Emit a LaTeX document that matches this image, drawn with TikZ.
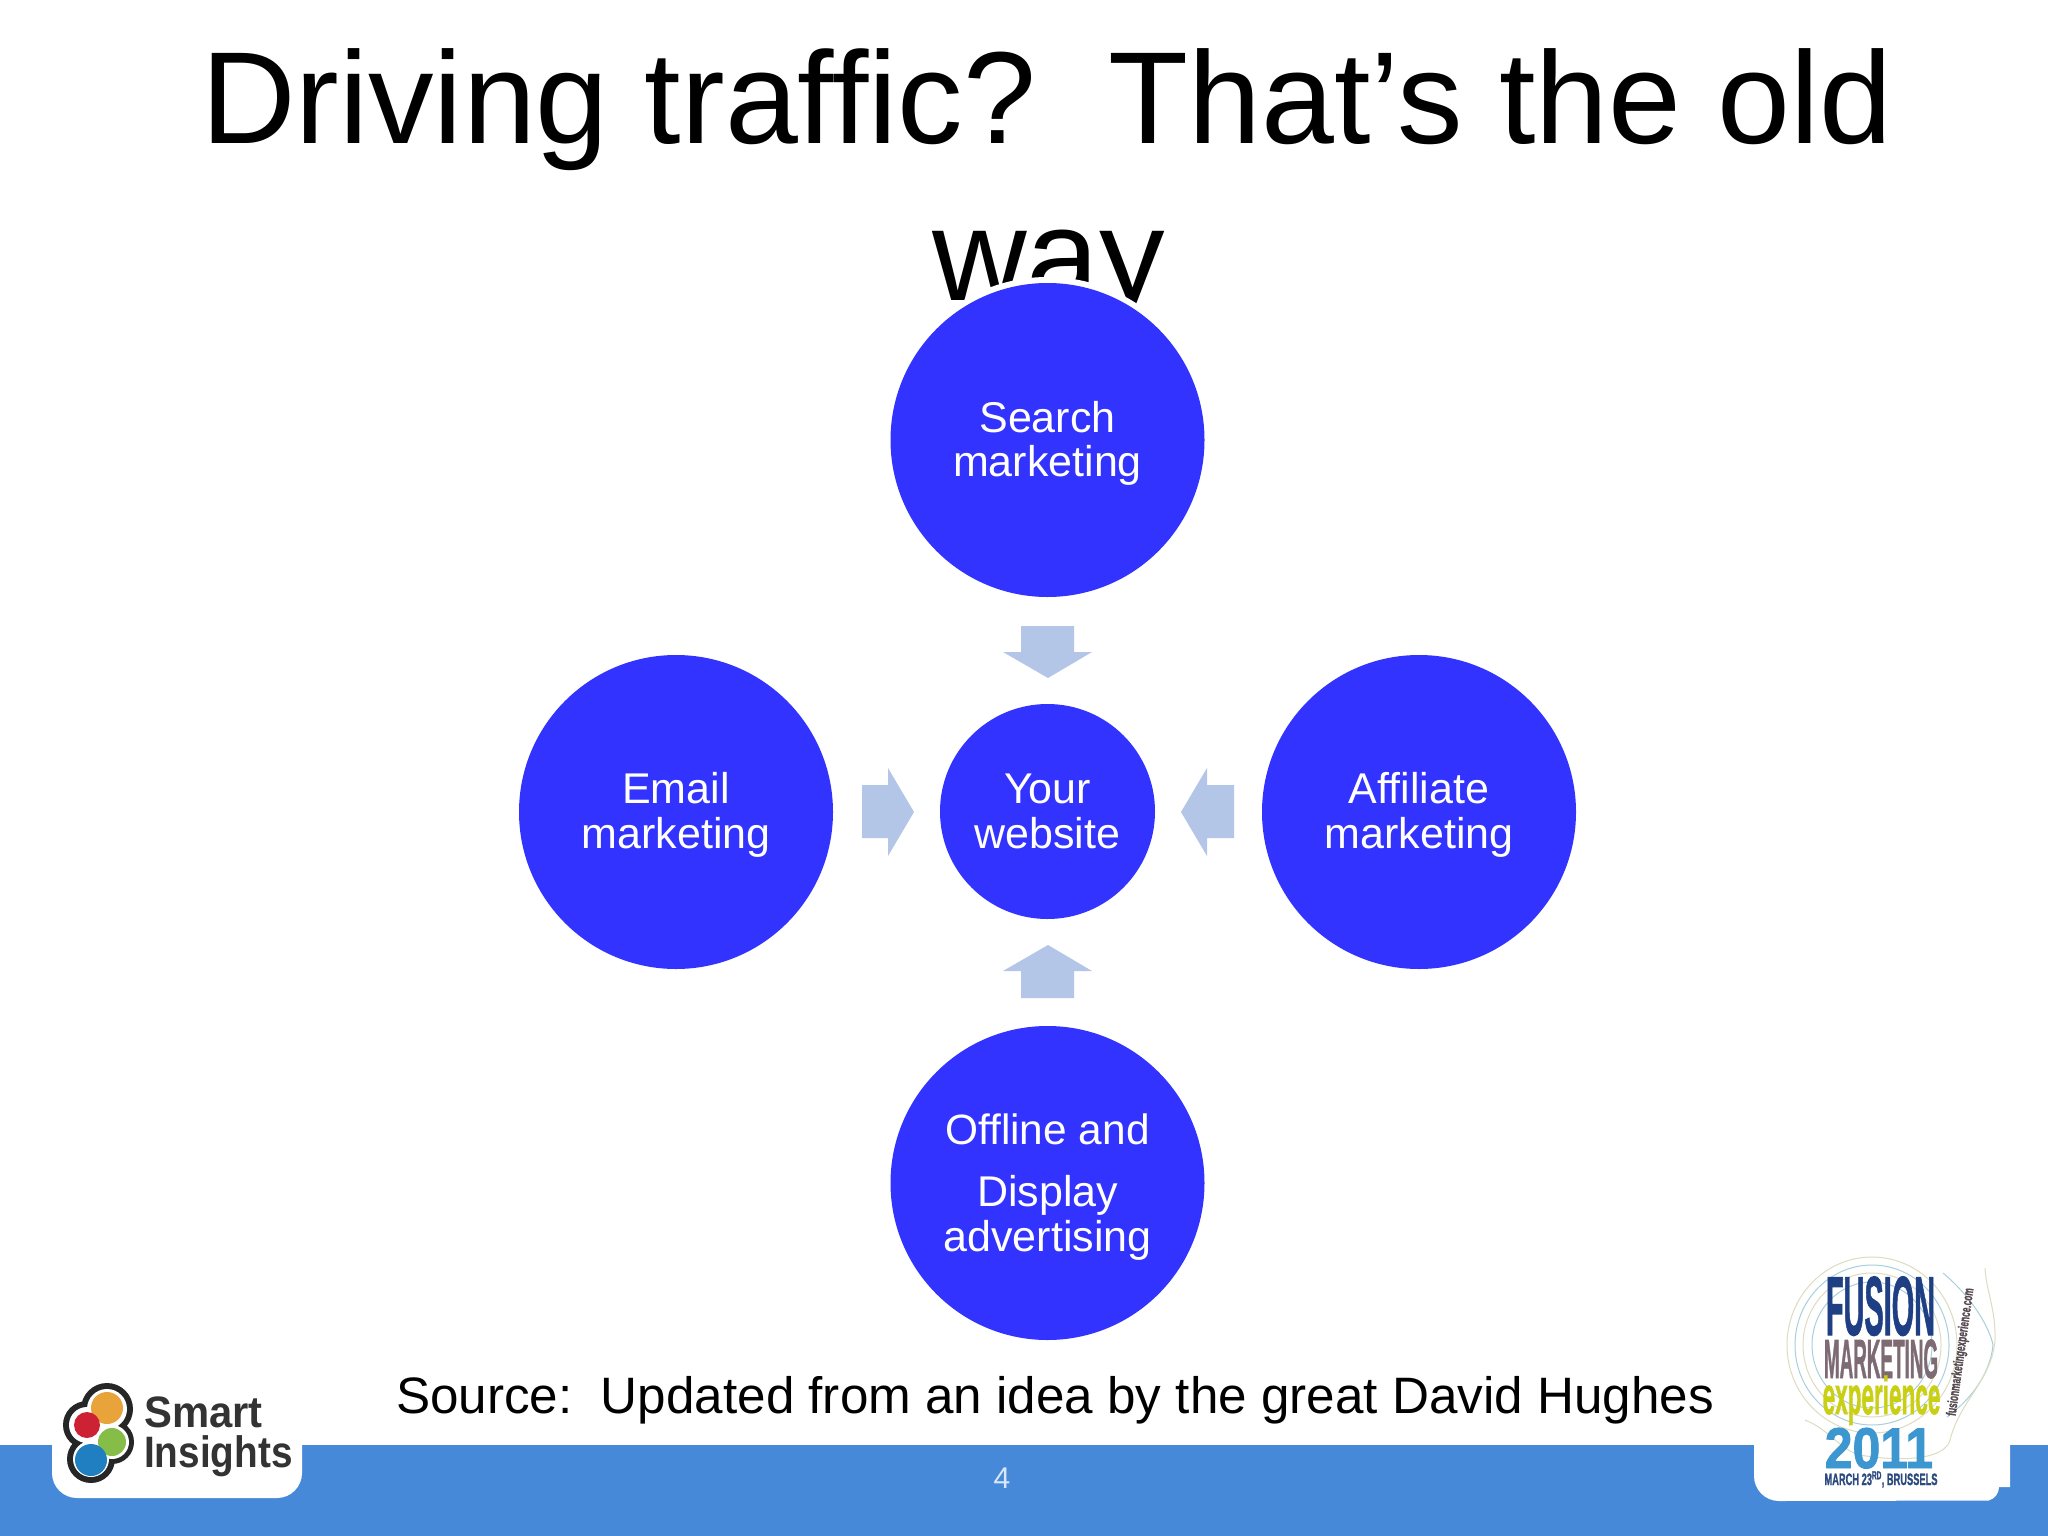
\documentclass[tikz,border=0pt]{standalone}
\usepackage{fontspec}
\setmainfont{Liberation Sans}
\newfontfamily\heavyface[FakeBold=1.5]{Liberation Sans Bold}
\definecolor{barblue}{HTML}{4589D8}
\definecolor{discblue}{HTML}{3333FF}
\definecolor{arrowblue}{HTML}{B3C6E7}
\definecolor{fusnavy}{HTML}{1F3F85}
\definecolor{fusmauve}{HTML}{7D6A72}
\definecolor{fusyellow}{HTML}{C9CF12}
\definecolor{fusblue}{HTML}{3C96D0}
\definecolor{fusdark}{HTML}{2B4A7E}
\definecolor{ringbeige}{HTML}{DCDCC0}
\definecolor{ringcyan}{HTML}{A8D0DC}
\definecolor{siorange}{HTML}{E8A33A}
\definecolor{sired}{HTML}{CC2233}
\definecolor{sigreen}{HTML}{86BC48}
\definecolor{siblue}{HTML}{1F7FC0}
\tikzset{
  disc/.style={circle,fill=discblue,inner sep=0pt,minimum size=314pt},
  hubdisc/.style={disc,minimum size=215pt},
  disctext/.style={inner sep=0pt,text=white,align=center,font=\fontsize{43}{44.5}\selectfont},
  flowarrow/.style={fill=arrowblue,draw=none},
  ring/.style={draw=#1,line width=1pt,fill=none},
  tab/.style={fill=white,draw=none},
  squeezed/.style={inner sep=0pt,anchor=base,transform shape},
  sitext/.style={anchor=base west,inner sep=0pt,text=black!80,transform shape,font=\bfseries\fontsize{44}{44}\selectfont},
}
\begin{document}
\begin{tikzpicture}[x=1pt,y=-1pt]
\useasboundingbox (0,0) rectangle (2048,1536);
\fill[white] (0,0) rectangle (2048,1536);
% title
\node[anchor=base,inner sep=0pt,font=\fontsize{131}{131}\selectfont] (title1) at (1047,143) {Driving traffic?\ \ That’s the old};
\node[anchor=base,inner sep=0pt,font=\fontsize{131}{131}\selectfont] (title2) at (1048.5,300) {way};
% discs
\fill[white] (1047.5,440) circle (163);
\node[disc] (search) at (1047.5,440) {};
\node[disctext] (searcht) at (1047.5,443.5) {Search\\marketing};
\node[disc] (email) at (676,812) {};
\node[disctext] (emailt) at (676,815) {Email\\marketing};
\node[disc] (affiliate) at (1419,812) {};
\node[disctext] (affiliatet) at (1419,815) {Affiliate\\marketing};
\node[disc] (offline) at (1047.5,1183) {};
\node[disctext,font=\fontsize{42.4}{44.5}\selectfont] (offl1) at (1047.5,1129) {Offline and};
\node[disctext] (offl2) at (1047.5,1218) {Display\\advertising};
\node[hubdisc] (hub) at (1047.5,811.5) {};
\node[disctext] (hubt) at (1047.5,811.5) {Your\\website};
% arrows
\fill[flowarrow] (1021,626) -- (1074,626) -- (1074,652) -- (1092,652) -- (1048,678) -- (1003,652) -- (1021,652) -- cycle;
\fill[flowarrow] (1021,998) -- (1074,998) -- (1074,971) -- (1092,971) -- (1048,945) -- (1003,971) -- (1021,971) -- cycle;
\fill[flowarrow] (862,785) -- (862,838) -- (888,838) -- (888,856) -- (914,812) -- (888,768) -- (888,785) -- cycle;
\fill[flowarrow] (1234,785) -- (1234,838) -- (1207,838) -- (1207,856) -- (1181,812) -- (1207,768) -- (1207,785) -- cycle;
% source
\node[anchor=base,inner sep=0pt,font=\fontsize{51.2}{51.2}\selectfont] (source) at (1055,1413) {Source:\ \ Updated from an idea by the great David Hughes};
% bar
\fill[barblue] (0,1445) rectangle (2048,1536);
\node[inner sep=0pt,text=white,text opacity=.8,font=\fontsize{30}{30}\selectfont] (pageno) at (1002,1478) {4};
% tabs
\fill[tab] (52,1440) -- (302,1440) -- (302,1473) arc[start angle=0,end angle=90,radius=25] -- (77,1498) arc[start angle=90,end angle=180,radius=25] -- cycle;
\fill[tab] (1754,1440) -- (2010,1440) -- (2010,1487) -- (1999,1487) arc[start angle=0,end angle=75,radius=14] -- (1779,1501) arc[start angle=90,end angle=180,radius=25] -- cycle;
% smart insights logo
\fill[black!85] (107,1409) circle (26) (87,1425) circle (24) (112,1442) circle (22) (91,1459) circle (24);
\fill[white] (107,1409) circle (20) (87,1425) circle (18) (112,1442) circle (17) (91,1459) circle (18);
\fill[siorange] (107,1408) circle (16);
\fill[sired] (87,1425) circle (13);
\fill[sigreen] (112,1442) circle (14);
\fill[siblue] (91,1460) circle (16);
\node[sitext,xscale=.95] (smart) at (144,1427) {Smart};
\node[sitext,xscale=.88] (insights) at (144,1467) {Insights};
% fusion logo rings
\draw[ring=ringbeige] (1872,1345) ellipse (85 and 88);
\draw[ring=ringcyan] (1872,1345) ellipse (77 and 80);
\draw[ring=ringbeige] (1872,1345) ellipse (69 and 72);
\draw[ring=ringcyan] (1872,1345) ellipse (60 and 63);
\draw[ring=ringcyan] (1943,1273) .. controls (1975,1300) and (1990,1330) .. (1993,1345) .. controls (1990,1375) and (1970,1400) .. (1947,1417);
\draw[ring=ringbeige] (1985,1268) .. controls (1986,1290) and (1996,1310) .. (1995,1340) .. controls (1992,1380) and (1960,1400) .. (1950,1440) .. controls (1945,1460) and (1900,1462) .. (1860,1455) .. controls (1840,1450) and (1830,1430) .. (1805,1420);
% fusion wordmark
\node[squeezed,xscale=.535,yscale=1.55,text=fusnavy,font=\heavyface\fontsize{54}{54}\selectfont] (fusion) at (1880.5,1335) {FUSION};
\node[squeezed,xscale=.41,yscale=1.2,text=fusmauve,font=\heavyface\fontsize{46}{46}\selectfont] (marketing) at (1881,1378) {MARKETING};
\node[squeezed,xscale=.49,yscale=1.15,text=fusyellow,font=\heavyface\fontsize{46}{46}\selectfont] (experience) at (1881.5,1414) {experience};
\node[squeezed,yscale=1.15,text=fusblue,font=\heavyface\fontsize{50}{50}\selectfont] (year) at (1879,1468) {2011};
\node[squeezed,xscale=.62,yscale=1.1,text=fusdark,font=\heavyface\fontsize{15}{15}\selectfont] (date) at (1881,1485) {MARCH 23\textsuperscript{RD}, BRUSSELS};
\node[inner sep=0pt,rotate=82,xscale=.6,transform shape,text=fusmauve!70!black,font=\heavyface\fontsize{14}{14}\selectfont] (site) at (1961,1352) {fusionmarketingexperience.com};
\end{tikzpicture}
\end{document}
